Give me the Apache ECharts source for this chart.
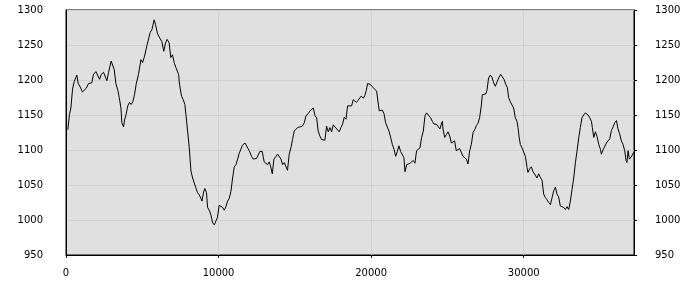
<!DOCTYPE html>
<html>
<head>
<meta charset="utf-8">
<script src="https://cdn.jsdelivr.net/npm/echarts@6/dist/echarts.min.js"></script>
<style>
html,body{margin:0;padding:0;background:#fff;}
#c{width:700px;height:300px;}
</style>
</head>
<body>
<div id="c"></div>
<script>
var xTickValues = [0, 10000, 20000, 30000];
var yTickMin = 950, yTickMax = 1300, yTickStep = 50;
var xMax = 37230;

var xs = [120,230,320,430,540,710,800,930,1080,1210,1320,1480,1690,1800,1960,2070,2200,2310,2460,2570,2680,2790,2960,3050,3160,3270,3400,3490,3600,3660,3770,3840,3920,4050,4160,4270,4380,4490,4600,4750,4910,5020,5150,5300,5410,5520,5630,5780,5870,6000,
6170,6280,6410,6520,6630,6760,6870,6980,7090,7200,7310,7380,7440,7570,7680,7790,7860,7970,8080,8190,8300,8400,8510,8620,8730,8840,8910,9020,9100,9210,9280,9410,9500,9610,9720,9820,9930,10040,10150,10260,10370,10480,10590,10700,10810,10920,11030,11140,11250,11350,11460,11570,11730,11860,12010,
12160,12270,12380,12490,12600,12710,12860,12990,13100,13210,13320,13410,13520,13630,13740,13870,13980,14090,14200,14310,14410,14520,14630,14740,14850,14960,15070,15180,15330,15490,15620,15730,15880,15990,16100,16210,16320,16430,16530,16640,16750,16860,16970,17080,17190,17300,17410,17520,17630,17760,17910,18020,18130,18240,18350,18460,
18590,18720,18830,18940,19030,19140,19250,19350,19490,19590,19680,19770,19920,20030,20140,20250,20360,20470,20530,20640,20730,20840,20950,21060,21170,21280,21390,21500,21610,21720,21820,21930,22040,22150,22220,22330,22440,22550,22650,22760,22870,22980,23090,23200,23310,23420,23530,23640,23750,23900,24010,24120,24270,24400,24510,24600,
24670,24710,24820,24930,25040,25150,25260,25370,25470,25580,25690,25800,25910,26020,26130,26240,26350,26460,26570,26680,26790,26900,27000,27110,27220,27290,27400,27510,27590,27700,27810,27920,28030,28140,28250,28380,28490,28600,28710,28820,28930,29010,29120,29230,29340,29450,29560,29630,29690,29780,29890,30000,30110,30220,30280,30390,30500,30610,30760,
30870,30980,31090,31200,31310,31420,31530,31640,31750,31860,31970,32080,32180,32290,32400,32510,32620,32730,32840,32950,33060,33170,33280,33390,33500,33610,33710,33820,33930,34040,34110,34220,34330,34440,34500,34590,34700,34810,34920,35030,35090,35200,35310,35420,35530,35640,35750,35860,35970,36080,36180,36290,36400,36510,36620,36710,36770,36840,36930,37040,37150,37230];

var ys = [1129,1151,1160,1187,1198,1207,1195,1190,1183,1185,1188,1195,1196,1208,1212,1213,1201,1208,1211,1209,1199,1211,1227,1225,1215,1195,1185,1175,1160,1139,1133,1143,1149,1163,1168,1165,1169,1179,1194,1208,1229,1225,1234,1249,1250,1268,1272,1286,1279,1266,
1259,1255,1241,1253,1258,1253,1232,1236,1225,1218,1218,1208,1194,1177,1172,1165,1151,1127,1103,1070,1060,1058,1046,1039,1036,1031,1027,1040,1045,1039,1018,1013,1007,996,993,993,1004,1021,1022,1018,1014,1019,1027,1031,1041,1060,1076,1079,1087,1095,1093,1107,1110,1110,1099,
1091,1087,1089,1088,1090,1098,1098,1083,1082,1079,1083,1077,1066,1087,1090,1094,1096,1087,1079,1082,1080,1071,1094,1103,1115,1127,1129,1132,1133,1134,1139,1149,1152,1156,1158,1160,1149,1146,1127,1120,1115,1113,1114,1134,1126,1132,1126,1136,1133,1132,1126,1132,1137,1147,1144,1163,
1164,1163,1172,1174,1168,1171,1172,1177,1174,1178,1185,1195,1194,1196,1189,1187,1184,1182,1156,1155,1157,1152,1139,1138,1127,1118,1108,1101,1091,1098,1106,1098,1096,1089,1069,1079,1080,1081,1079,1085,1081,1099,1101,1103,1118,1127,1149,1153,1150,1146,1141,1137,1137,1136,1130,1137,
1141,1130,1118,1122,1126,1120,1110,1110,1113,1099,1100,1102,1103,1091,1089,1087,1080,1099,1108,1125,1129,1135,1138,1146,1163,1179,1180,1180,1185,1203,1207,1204,1196,1191,1197,1204,1208,1207,1201,1194,1189,1175,1169,1170,1160,1146,1141,1132,1120,1108,1103,1101,1091,1075,1068,1073,1076,1069,1064,
1060,1066,1061,1057,1037,1032,1029,1025,1022,1032,1042,1047,1037,1033,1020,1019,1018,1015,1019,1015,1027,1044,1060,1082,1099,1118,1132,1146,1150,1153,1155,1150,1146,1141,1132,1118,1126,1119,1108,1101,1094,1100,1098,1110,1113,1116,1128,1133,1139,1142,1130,1123,1113,1108,1099,1085,1082,1099,1087,1090,1092,1097];

var seriesData = xs.map(function (x, i) { return [x, ys[i]]; });

var font = 'DejaVu Sans';
var plain = function (v) { return String(v); };
var chart = echarts.init(document.getElementById('c'), null, {renderer: 'canvas'});
var yAxisBase = function (pos) {
  return {
    type: 'value',
    position: pos,
    min: yTickMin,
    max: yTickMax,
    interval: yTickStep,
    axisLine: {show: true, lineStyle: {color: '#000', width: 1}},
    axisTick: {show: pos === 'right', length: 3, lineStyle: {color: '#000'}},
    axisLabel: {color: '#000', fontFamily: font, fontSize: 10, margin: pos === 'right' ? 21 : 23, formatter: plain},
    splitLine: {show: pos === 'left', lineStyle: {color: '#d0d0d0', width: 1}}
  };
};
chart.setOption({
  animation: false,
  grid: {left: 66, top: 10, width: 568, height: 245, show: true, backgroundColor: '#e0e0e0', borderColor: '#000', borderWidth: 1},
  xAxis: {
    type: 'value',
    min: 0,
    max: xMax,
    interval: 10000,
    axisLine: {show: true, lineStyle: {color: '#000', width: 1}},
    axisTick: {show: true, length: 3, lineStyle: {color: '#000'}, customValues: xTickValues},
    axisLabel: {color: '#000', fontFamily: font, fontSize: 10, margin: 13, customValues: xTickValues, formatter: plain},
    splitLine: {show: true, lineStyle: {color: '#d0d0d0', width: 1}}
  },
  yAxis: [yAxisBase('left'), yAxisBase('right')],
  series: [{
    type: 'line',
    data: seriesData,
    yAxisIndex: 0,
    showSymbol: false,
    symbol: 'none',
    lineStyle: {color: '#000', width: 1},
    silent: true
  }]
});
</script>
</body>
</html>
